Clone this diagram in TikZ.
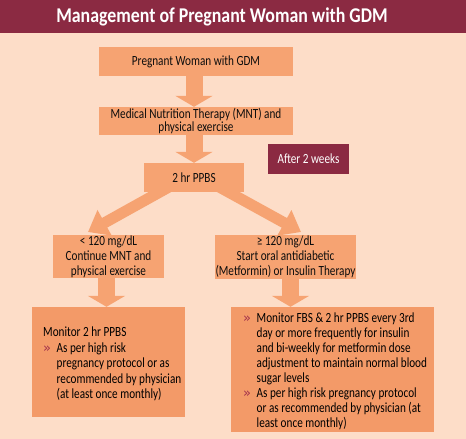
\documentclass[tikz,border=0pt]{standalone}
\usepackage{fontspec}
\setmainfont{Carlito}[FakeStretch=0.8]
\newfontfamily\titlefont{Carlito}[FakeStretch=0.85]
\newfontfamily\bulfont{DejaVu Sans}
\usetikzlibrary{arrows.meta,backgrounds}
\definecolor{bg}{HTML}{FDDDC8}
\definecolor{maroon}{HTML}{8B2A42}
\definecolor{boxc}{HTML}{F6A372}
\definecolor{boxd}{HTML}{F39A68}
\definecolor{bul}{HTML}{A3324C}
\newcommand{\bl}{\makebox[13.5pt][l]{\raisebox{0.3pt}{\color{bul}\bulfont\fontsize{13}{15}\selectfont»}}}
\newcommand{\ind}{\hspace*{13.5pt}}
\begin{document}
\begin{tikzpicture}[x=1pt,y=-1pt,
  every node/.style={font=\fontsize{14}{15}\selectfont, inner sep=0pt},
  flowbox/.style={fill=boxc, align=center, text=black!95},
  fat/.style={draw=boxc, line width=17pt, -{Triangle[width=37pt,length=11pt]}},
  diag/.style={draw=boxc, line width=11pt, -{Triangle[width=28pt,length=19pt]}}]
\useasboundingbox (0,0) rectangle (466,439);
\fill[maroon] (0,0) rectangle (466,33);
\node[text=white, font=\fontsize{21}{24}\titlefont\bfseries] (title) at (222,17) {Management of Pregnant Woman with GDM};

\node[flowbox, minimum width=194pt, minimum height=29pt] (b1) at (196,61.5) {Pregnant Woman with GDM};
\node[flowbox, minimum width=194pt, minimum height=28pt, font=\fontsize{14}{13.5}\selectfont] (b2) at (196,121) {Medical Nutrition Therapy (MNT) and\\physical exercise};
\node[flowbox, minimum width=100pt, minimum height=29pt] (b3) at (194,177.5) {2 hr PPBS};
\node[fill=maroon, text=white, minimum width=81pt, minimum height=30pt] (after) at (308.5,159) {After 2 weeks};
\node[flowbox, minimum width=111pt, minimum height=43pt] (lb) at (108.5,256.5) {< 120 mg/dL\\Continue MNT and\\physical exercise};
\node[flowbox, minimum width=141pt, minimum height=44pt] (rb) at (285.5,257) {≥ 120 mg/dL\\Start oral antidiabetic\\(Metformin) or Insulin Therapy};

\node[fill=boxd, minimum width=153pt, minimum height=110pt] (lbb) at (108.5,362) {};
\node[fill=boxd, minimum width=203pt, minimum height=125pt] (rbb) at (332.5,369.5) {};

\node[anchor=north west, align=left, font=\fontsize{14}{15.5}\selectfont] (lt) at (43,327) {Monitor 2 hr PPBS\\\bl As per high risk\\\ind pregnancy protocol or as\\\ind recommended by physician\\\ind (at least once monthly)};
\node[anchor=north west, align=left] (rt) at (243,313) {\bl Monitor FBS \& 2 hr PPBS every 3rd\\\ind day or more frequently for insulin\\\ind and bi-weekly for metformin dose\\\ind adjustment to maintain normal blood\\\ind sugar levels\\\bl As per high risk pregnancy protocol\\\ind or as recommended by physician (at\\\ind least once monthly)};

\coordinate (ltip) at (88,232);
\coordinate (rtip) at (301,232);
\begin{scope}[on background layer]
\fill[bg] (0,33) rectangle (466,439);
\draw[diag] ([xshift=-8pt]b3.center) -- (ltip);
\draw[diag] ([xshift=8pt]b3.center) -- (rtip);
\end{scope}
\draw[fat] ([xshift=-2pt]b1.south) -- ([xshift=-2pt]b2.north);
\draw[fat] ([xshift=-2pt]b2.south) -- (b3.north);
\draw[fat] ([xshift=-2pt]lb.south) -- ([xshift=-2pt]lb.south |- lbb.north);
\draw[fat] ([xshift=5pt]rb.south) -- ([xshift=5pt]rb.south |- rbb.north);
\end{tikzpicture}
\end{document}
